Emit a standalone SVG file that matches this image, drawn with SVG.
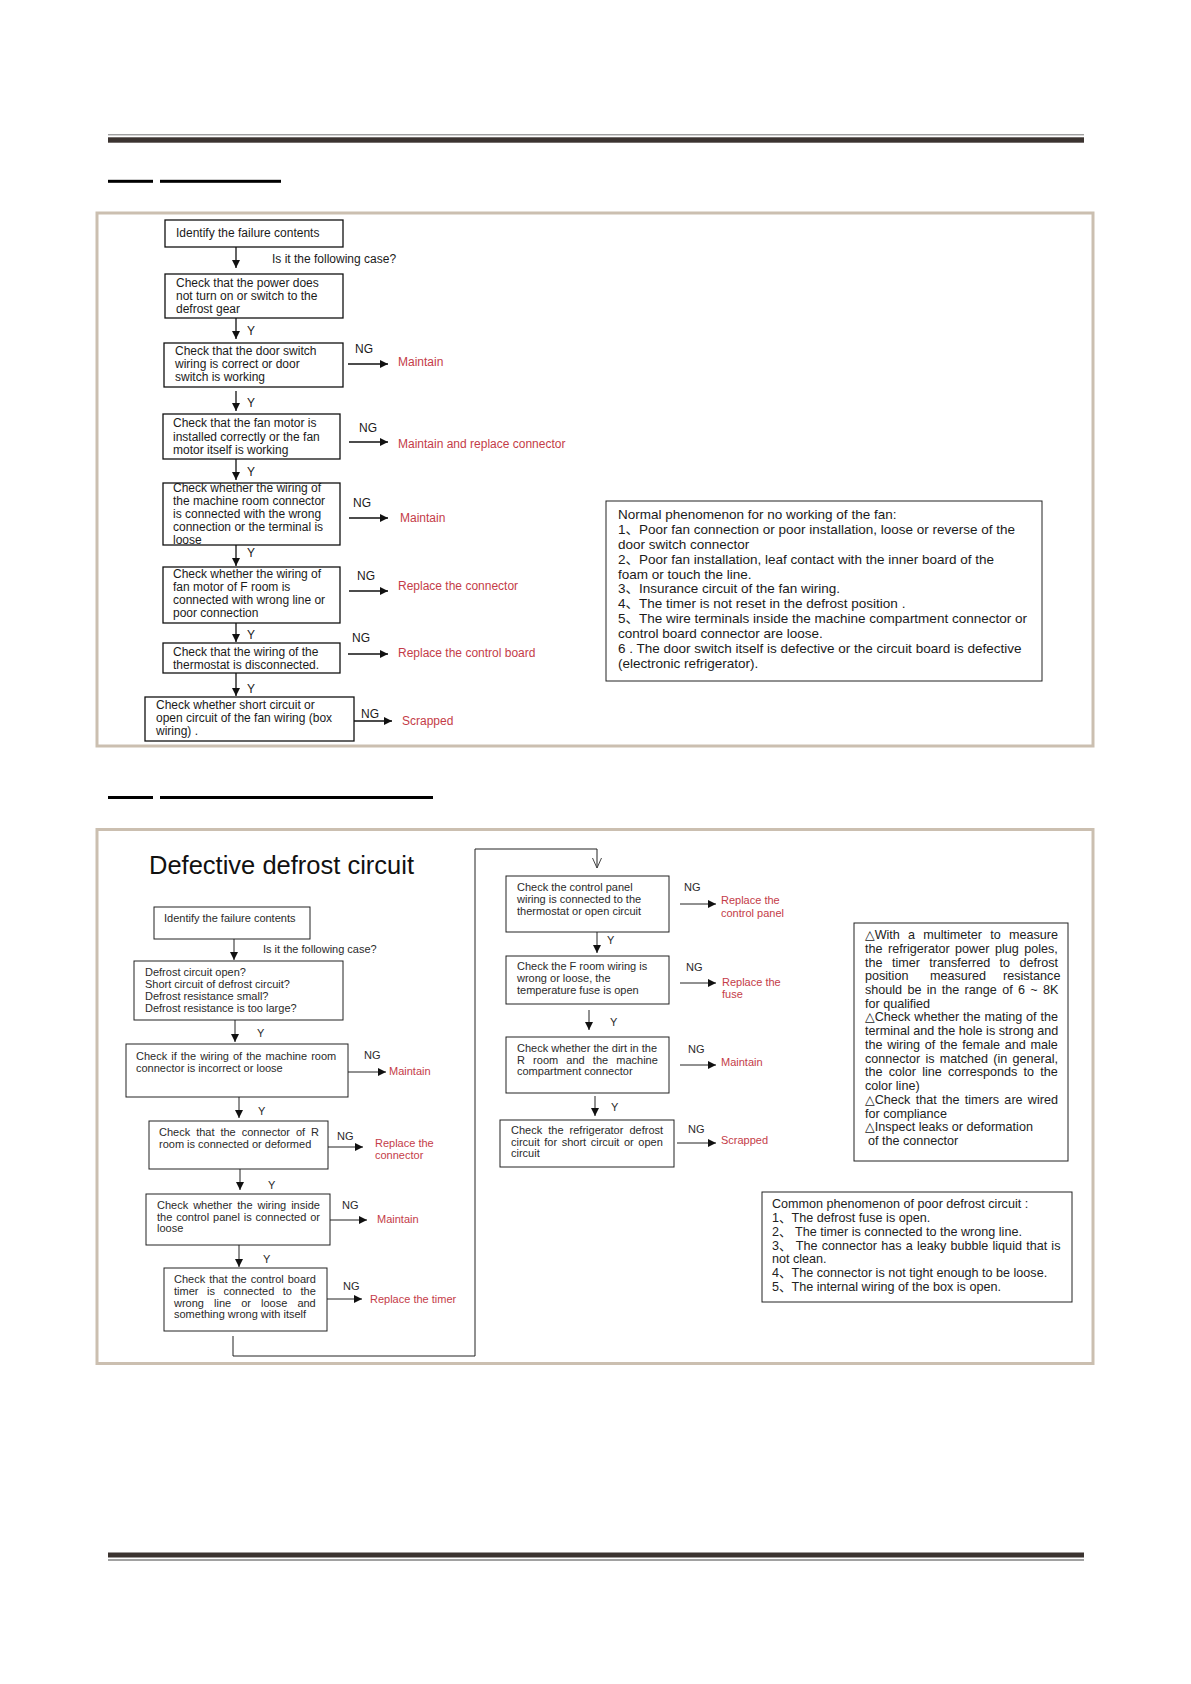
<svg xmlns="http://www.w3.org/2000/svg" width="1191" height="1684" viewBox="0 0 1191 1684">
<style>
text{font-family:"Liberation Sans","DejaVu Sans","Noto Sans CJK SC",sans-serif}
.b1{fill:#fff;stroke:#111;stroke-width:1.3}
.b2{fill:#fff;stroke:#222;stroke-width:1}
.t1{font-size:12px;fill:#1a1a1a}
.t2{font-size:11px;fill:#2a2a2a}
.n1{font-size:13.5px;fill:#1a1a1a}
.n2{font-size:12.6px;fill:#222}
.r1{font-size:12px;fill:#c43c48}
.r2{font-size:11px;fill:#c43c48}
.c1{stroke:#111;stroke-width:1.3;fill:none}
.c2{stroke:#222;stroke-width:1;fill:none}
.frame{fill:none;stroke:#cbbfb0;stroke-width:3}
</style>
<defs>
<marker id="ah" viewBox="0 0 10 10" refX="10" refY="5" markerWidth="9" markerHeight="8" markerUnits="userSpaceOnUse" orient="auto"><path d="M0,0 L10,5 L0,10 z" fill="#111"/></marker>
<marker id="oh" viewBox="0 0 10 10" refX="10" refY="5" markerWidth="10" markerHeight="10" markerUnits="userSpaceOnUse" orient="auto"><path d="M0,0.5 L10,5 L0,9.5" fill="none" stroke="#444" stroke-width="1"/></marker>
</defs>
<rect width="1191" height="1684" fill="#fff"/>
<g id="page-decor">
<line x1="108" y1="134.8" x2="1084" y2="134.8" stroke="#777" stroke-width="1"/>
<rect x="108" y="137.3" width="976" height="5.4" fill="#3b3330"/>
<rect x="108" y="179.8" width="45" height="3" fill="#000"/>
<rect x="160" y="179.8" width="121" height="3" fill="#000"/>
<rect x="108" y="796" width="45" height="3" fill="#000"/>
<rect x="160" y="796" width="273" height="3" fill="#000"/>
<rect x="108" y="1552.5" width="976" height="5" fill="#3b3330"/>
<line x1="108" y1="1560" x2="1084" y2="1560" stroke="#444" stroke-width="1"/>
<rect class="frame" x="97" y="213" width="996" height="533"/>
<rect class="frame" x="97" y="829.5" width="996" height="534"/>
</g>

<g id="connectors-1">
<path class="c1" marker-end="url(#ah)" d="M236,247 V268"/>
<path class="c1" marker-end="url(#ah)" d="M236,318 V339"/>
<path class="c1" marker-end="url(#ah)" d="M236,391 V411"/>
<path class="c1" marker-end="url(#ah)" d="M236,459 V480"/>
<path class="c1" marker-end="url(#ah)" d="M236,545 V566"/>
<path class="c1" marker-end="url(#ah)" d="M236,623 V642"/>
<path class="c1" marker-end="url(#ah)" d="M236,673 V696"/>
<path class="c1" marker-end="url(#ah)" d="M348,364 H388"/>
<path class="c1" marker-end="url(#ah)" d="M349,442 H388"/>
<path class="c1" marker-end="url(#ah)" d="M349,518 H388"/>
<path class="c1" marker-end="url(#ah)" d="M349,591 H388"/>
<path class="c1" marker-end="url(#ah)" d="M348,654 H388"/>
<path class="c1" marker-end="url(#ah)" d="M354,721 H392"/>
<text class="t1" x="272" y="263">Is it the following case?</text>
<text class="t1" x="247" y="335">Y</text>
<text class="t1" x="247" y="407">Y</text>
<text class="t1" x="247" y="476">Y</text>
<text class="t1" x="247" y="557">Y</text>
<text class="t1" x="247" y="639">Y</text>
<text class="t1" x="247" y="693">Y</text>
<text class="t1" x="355" y="353">NG</text>
<text class="t1" x="359" y="432">NG</text>
<text class="t1" x="353" y="507">NG</text>
<text class="t1" x="357" y="580">NG</text>
<text class="t1" x="352" y="642">NG</text>
<text class="t1" x="361" y="718">NG</text>
</g>

<g id="f1-n1"><rect class="b1" x="165" y="220" width="178" height="27"/><text class="t1" x="176" y="237">Identify the failure contents</text></g>
<g id="f1-n2"><rect class="b1" x="165" y="274" width="178" height="44"/><text class="t1"><tspan x="176" y="287">Check that the power does</tspan><tspan x="176" y="300">not turn on or switch to the</tspan><tspan x="176" y="313">defrost gear</tspan></text></g>
<g id="f1-n3"><rect class="b1" x="164" y="343" width="179" height="44"/><text class="t1"><tspan x="175" y="355">Check that the door switch</tspan><tspan x="175" y="368">wiring is correct or door</tspan><tspan x="175" y="381">switch is working</tspan></text></g>
<g id="f1-n4"><rect class="b1" x="163" y="414" width="177" height="45"/><text class="t1"><tspan x="173" y="427">Check that the fan motor is</tspan><tspan x="173" y="441">installed correctly or the fan</tspan><tspan x="173" y="454">motor itself is working</tspan></text></g>
<g id="f1-n5"><rect class="b1" x="163" y="483" width="177" height="62"/><text class="t1"><tspan x="173" y="492">Check whether the wiring of</tspan><tspan x="173" y="505">the machine room connector</tspan><tspan x="173" y="518">is connected with the wrong</tspan><tspan x="173" y="531">connection or the terminal is</tspan><tspan x="173" y="544">loose</tspan></text></g>
<g id="f1-n6"><rect class="b1" x="163" y="567" width="177" height="56"/><text class="t1"><tspan x="173" y="578">Check whether the wiring of</tspan><tspan x="173" y="591">fan motor of F room is</tspan><tspan x="173" y="604">connected with wrong line or</tspan><tspan x="173" y="617">poor connection</tspan></text></g>
<g id="f1-n7"><rect class="b1" x="163" y="643" width="177" height="30"/><text class="t1"><tspan x="173" y="656">Check that the wiring of the</tspan><tspan x="173" y="669">thermostat is disconnected.</tspan></text></g>
<g id="f1-n8"><rect class="b1" x="145" y="697" width="209" height="44"/><text class="t1"><tspan x="156" y="709">Check whether short circuit or</tspan><tspan x="156" y="722">open circuit of the fan wiring (box</tspan><tspan x="156" y="735">wiring) .</tspan></text></g>
<g id="f1-r3"><text class="r1" x="398" y="366">Maintain</text></g>
<g id="f1-r4"><text class="r1" x="398" y="448">Maintain and replace connector</text></g>
<g id="f1-r5"><text class="r1" x="400" y="522">Maintain</text></g>
<g id="f1-r6"><text class="r1" x="398" y="590">Replace the connector</text></g>
<g id="f1-r7"><text class="r1" x="398" y="657">Replace the control board</text></g>
<g id="f1-r8"><text class="r1" x="402" y="725">Scrapped</text></g>
<g id="f1-note"><rect class="b2" x="606" y="501" width="436" height="180"/><text class="n1"><tspan x="618" y="519">Normal phenomenon for no working of the fan:</tspan><tspan x="618" y="534">1、Poor  fan connection or poor installation, loose or reverse of the</tspan><tspan x="618" y="549">door switch connector</tspan><tspan x="618" y="564">2、Poor fan installation, leaf contact with the inner board of the</tspan><tspan x="618" y="579">foam or touch the  line.</tspan><tspan x="618" y="593">3、Insurance circuit of the fan wiring.</tspan><tspan x="618" y="608">4、The timer is not reset in the defrost position .</tspan><tspan x="618" y="623">5、The wire terminals inside the machine compartment connector or</tspan><tspan x="618" y="638">control board connector are loose.</tspan><tspan x="618" y="653">6 . The door switch itself is defective or the circuit board is defective</tspan><tspan x="618" y="668">(electronic refrigerator).</tspan></text></g>

<g id="title2"><text x="149" y="874" font-size="25.5" fill="#111">Defective defrost circuit</text></g>

<g id="connectors-2">
<path class="c2" marker-end="url(#ah)" d="M234,939 V960"/>
<path class="c2" marker-end="url(#ah)" d="M235,1020 V1042"/>
<path class="c2" marker-end="url(#ah)" d="M239,1097 V1118"/>
<path class="c2" marker-end="url(#ah)" d="M240,1169 V1190"/>
<path class="c2" marker-end="url(#ah)" d="M239,1245 V1267"/>
<path class="c2" marker-end="url(#ah)" d="M597,932 V953"/>
<path class="c2" marker-end="url(#ah)" d="M589,1010 V1030"/>
<path class="c2" marker-end="url(#ah)" d="M595,1096 V1116"/>
<path class="c2" marker-end="url(#oh)" d="M233,1336 V1356 H475 V849 H597 V868"/>
<path class="c2" marker-end="url(#ah)" d="M348,1072 H386"/>
<path class="c2" marker-end="url(#ah)" d="M328,1147 H363"/>
<path class="c2" marker-end="url(#ah)" d="M330,1220 H367"/>
<path class="c2" marker-end="url(#ah)" d="M327,1299 H362"/>
<path class="c2" marker-end="url(#ah)" d="M680,904 H716"/>
<path class="c2" marker-end="url(#ah)" d="M680,983 H716"/>
<path class="c2" marker-end="url(#ah)" d="M680,1065 H716"/>
<path class="c2" marker-end="url(#ah)" d="M677,1143 H716"/>
<text class="t2" x="263" y="953">Is it the following case?</text>
<text class="t2" x="257" y="1037">Y</text>
<text class="t2" x="258" y="1115">Y</text>
<text class="t2" x="268" y="1189">Y</text>
<text class="t2" x="263" y="1263">Y</text>
<text class="t2" x="607" y="944">Y</text>
<text class="t2" x="610" y="1026">Y</text>
<text class="t2" x="611" y="1111">Y</text>
<text class="t2" x="364" y="1059">NG</text>
<text class="t2" x="337" y="1140">NG</text>
<text class="t2" x="342" y="1209">NG</text>
<text class="t2" x="343" y="1290">NG</text>
<text class="t2" x="684" y="891">NG</text>
<text class="t2" x="686" y="971">NG</text>
<text class="t2" x="688" y="1053">NG</text>
<text class="t2" x="688" y="1133">NG</text>
</g>

<g id="f2-s1"><rect class="b2" x="154" y="907" width="156" height="32"/><text class="t2" x="164" y="922">Identify the failure contents</text></g>
<g id="f2-s2"><rect class="b2" x="134" y="961" width="209" height="59"/><text class="t2"><tspan x="145" y="976">Defrost circuit open?</tspan><tspan x="145" y="988">Short circuit  of defrost circuit?</tspan><tspan x="145" y="1000">Defrost resistance small?</tspan><tspan x="145" y="1012">Defrost resistance is too large?</tspan></text></g>
<g id="f2-s3"><rect class="b2" x="126" y="1044" width="222" height="53"/><text class="t2"><tspan x="136" y="1060" word-spacing="1">Check if the wiring of the machine room</tspan><tspan x="136" y="1072">connector is incorrect or loose</tspan></text></g>
<g id="f2-s4"><rect class="b2" x="149" y="1121" width="179" height="48"/><text class="t2"><tspan x="159" y="1136" word-spacing="2.9">Check that the connector of R</tspan><tspan x="159" y="1148">room is connected or deformed</tspan></text></g>
<g id="f2-s5"><rect class="b2" x="146" y="1194" width="184" height="51"/><text class="t2"><tspan x="157" y="1209" word-spacing="1.9">Check whether the wiring inside</tspan><tspan x="157" y="1221" word-spacing="0.8">the control panel is connected or</tspan><tspan x="157" y="1232">loose</tspan></text></g>
<g id="f2-s6"><rect class="b2" x="164" y="1268" width="163" height="63"/><text class="t2"><tspan x="174" y="1283" word-spacing="0.9">Check that the control board</tspan><tspan x="174" y="1295" word-spacing="5.5">timer is connected to the</tspan><tspan x="174" y="1307" word-spacing="7">wrong line or loose and</tspan><tspan x="174" y="1318">something wrong with itself</tspan></text></g>
<g id="f2-a"><rect class="b2" x="506" y="876" width="163" height="56"/><text class="t2"><tspan x="517" y="891">Check the control panel</tspan><tspan x="517" y="903">wiring is connected to the</tspan><tspan x="517" y="915">thermostat or open circuit</tspan></text></g>
<g id="f2-b"><rect class="b2" x="506" y="956" width="163" height="48"/><text class="t2"><tspan x="517" y="970">Check the F room wiring is</tspan><tspan x="517" y="982">wrong or loose, the</tspan><tspan x="517" y="994">temperature fuse is open</tspan></text></g>
<g id="f2-c"><rect class="b2" x="506" y="1037" width="163" height="56"/><text class="t2"><tspan x="517" y="1052">Check whether the dirt in the</tspan><tspan x="517" y="1064" word-spacing="5.1">R room and the machine</tspan><tspan x="517" y="1075">compartment connector</tspan></text></g>
<g id="f2-d"><rect class="b2" x="500" y="1120" width="174" height="47"/><text class="t2"><tspan x="511" y="1134" word-spacing="3">Check the refrigerator defrost</tspan><tspan x="511" y="1146" word-spacing="1.5">circuit for short circuit or open</tspan><tspan x="511" y="1157">circuit</tspan></text></g>
<g id="f2-r3"><text class="r2" x="389" y="1075">Maintain</text></g>
<g id="f2-r4"><text class="r2"><tspan x="375" y="1147">Replace the</tspan><tspan x="375" y="1159">connector</tspan></text></g>
<g id="f2-r5"><text class="r2" x="377" y="1223">Maintain</text></g>
<g id="f2-r6"><text class="r2" x="370" y="1303">Replace the timer</text></g>
<g id="f2-ra"><text class="r2"><tspan x="721" y="904">Replace the</tspan><tspan x="721" y="917">control panel</tspan></text></g>
<g id="f2-rb"><text class="r2"><tspan x="722" y="986">Replace the</tspan><tspan x="722" y="998">fuse</tspan></text></g>
<g id="f2-rc"><text class="r2" x="721" y="1066">Maintain</text></g>
<g id="f2-rd"><text class="r2" x="721" y="1144">Scrapped</text></g>
<g id="f2-note1"><rect class="b2" x="854" y="923" width="214" height="238"/><text class="n2"><tspan x="865" y="939" word-spacing="4.7">△With a multimeter to measure</tspan><tspan x="865" y="952.7" word-spacing="2">the refrigerator power plug poles,</tspan><tspan x="865" y="966.5" word-spacing="5.9">the timer transferred to defrost</tspan><tspan x="865" y="980.2">position</tspan><tspan x="930" y="980.2">measured</tspan><tspan x="1003" y="980.2">resistance</tspan><tspan x="865" y="993.9" word-spacing="1.8">should be in the range of 6 ~ 8K</tspan><tspan x="865" y="1007.7">for qualified</tspan><tspan x="865" y="1021.4" word-spacing="0.4">△Check whether the mating of the</tspan><tspan x="865" y="1035.1">terminal and the hole is strong and</tspan><tspan x="865" y="1048.8" word-spacing="1.2">the wiring of the female and male</tspan><tspan x="865" y="1062.6" word-spacing="1.7">connector is matched (in general,</tspan><tspan x="865" y="1076.3" word-spacing="2.7">the color line corresponds to the</tspan><tspan x="865" y="1090">color line)</tspan><tspan x="865" y="1103.8" word-spacing="1.8">△Check that the timers are wired</tspan><tspan x="865" y="1117.5">for compliance</tspan><tspan x="865" y="1131.2">△Inspect leaks or deformation</tspan><tspan x="868" y="1145">of the connector</tspan></text></g>
<g id="f2-note2"><rect class="b2" x="762" y="1192" width="310" height="110"/><text class="n2"><tspan x="772" y="1208">Common phenomenon of poor defrost circuit :</tspan><tspan x="772" y="1222">1、The defrost fuse is open.</tspan><tspan x="772" y="1236">2、 The timer is connected to the wrong line.</tspan><tspan x="772" y="1250" word-spacing="0.7">3、 The connector has a leaky bubble liquid that is</tspan><tspan x="772" y="1263">not clean.</tspan><tspan x="772" y="1277">4、The connector is not tight enough to be loose.</tspan><tspan x="772" y="1291">5、The internal wiring of the box is open.</tspan></text></g>
</svg>
